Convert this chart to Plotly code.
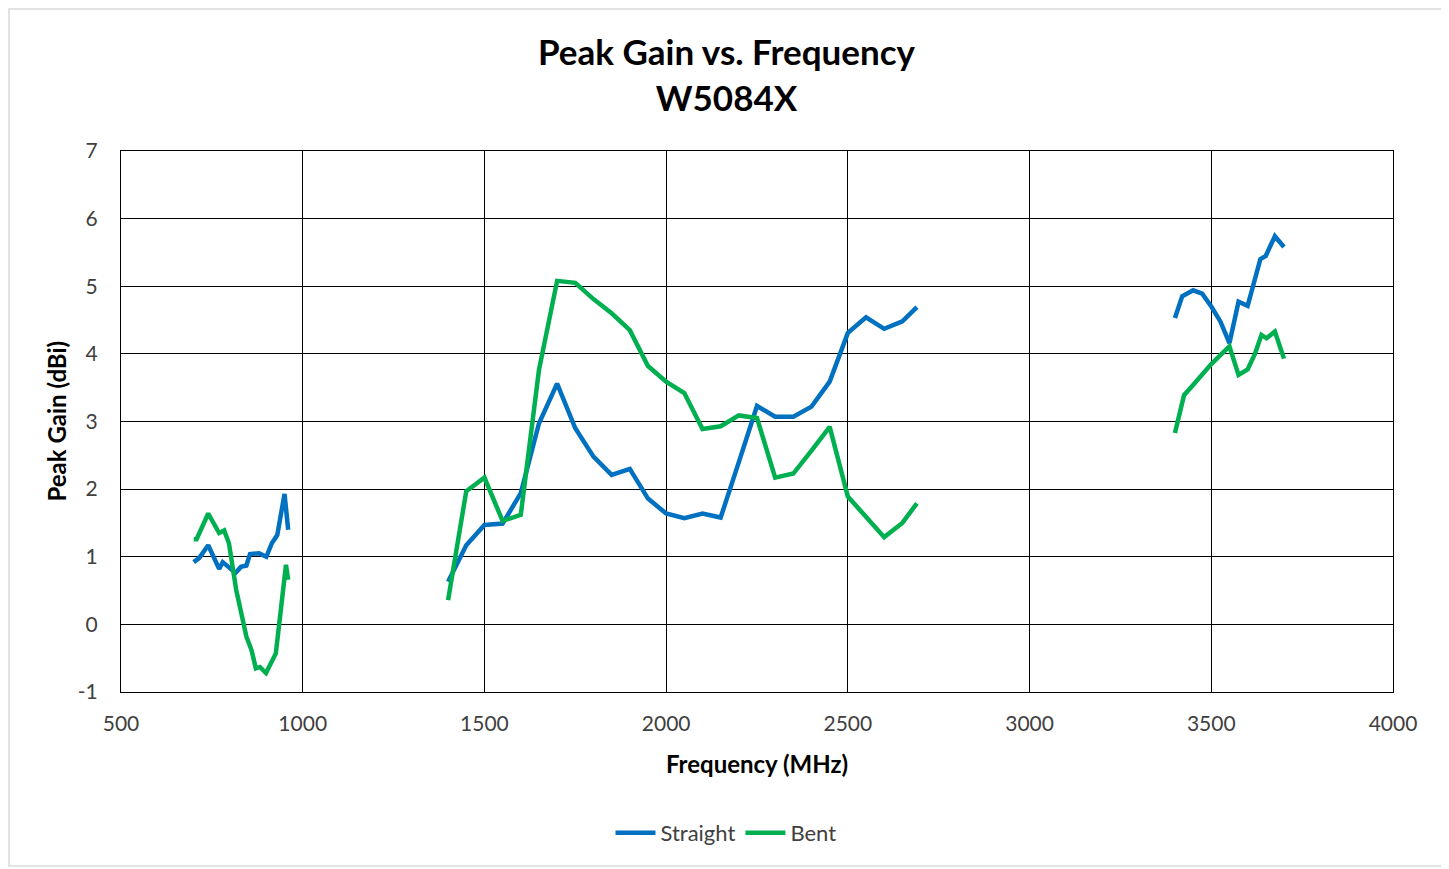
import plotly.graph_objects as go

# ---- data ----
straight_low_f = [700, 715, 740, 770, 780, 795, 815, 830, 845, 855, 880, 900, 915, 930, 950, 960]
straight_low_g = [0.92, 0.98, 1.17, 0.82, 0.92, 0.85, 0.76, 0.85, 0.87, 1.04, 1.05, 1.00, 1.20, 1.32, 1.93, 1.40]

bent_low_f = [700, 708, 740, 770, 784, 797, 817, 832, 845, 859, 871, 882, 899, 926, 937, 954, 960]
bent_low_g = [1.26, 1.26, 1.64, 1.35, 1.39, 1.20, 0.51, 0.11, -0.18, -0.38, -0.65, -0.63, -0.72, -0.43, 0.06, 0.88, 0.66]

mid_f = [1400, 1450, 1500, 1550, 1600, 1650, 1700, 1750, 1800, 1850, 1900, 1950, 2000,
         2050, 2100, 2150, 2200, 2250, 2300, 2350, 2400, 2450, 2500, 2550, 2600, 2650, 2690]
straight_mid_g = [0.63, 1.17, 1.47, 1.49, 1.94, 2.97, 3.56, 2.90, 2.48, 2.21, 2.30, 1.86, 1.64,
                  1.57, 1.64, 1.58, 2.40, 3.23, 3.07, 3.07, 3.22, 3.59, 4.31, 4.54, 4.37, 4.48, 4.69]
bent_mid_g = [0.36, 1.97, 2.17, 1.53, 1.62, 3.76, 5.08, 5.05, 4.81, 4.60, 4.35, 3.82, 3.59,
              3.42, 2.89, 2.93, 3.09, 3.05, 2.17, 2.23, 2.57, 2.92, 1.89, 1.60, 1.29, 1.50, 1.79]

straight_high_f = [3400, 3420, 3450, 3475, 3500, 3525, 3550, 3575, 3600, 3635, 3650, 3675, 3700]
straight_high_g = [4.53, 4.85, 4.94, 4.89, 4.70, 4.48, 4.16, 4.77, 4.71, 5.40, 5.45, 5.74, 5.58]

bent_high_f = [3400, 3425, 3450, 3475, 3500, 3525, 3550, 3575, 3600, 3620, 3638, 3652, 3675, 3700]
bent_high_g = [2.83, 3.39, 3.54, 3.70, 3.85, 3.98, 4.11, 3.69, 3.77, 4.00, 4.28, 4.23, 4.33, 3.93]

x_ticks = [500, 1000, 1500, 2000, 2500, 3000, 3500, 4000]
y_ticks = [-1, 0, 1, 2, 3, 4, 5, 6, 7]
y_tick_labels = ["-1", "0", "1", "2", "3", "4", "5", "6", "7"]

BLUE = "#0070C0"
GREEN = "#00B050"
FONT = "Lato, 'Open Sans', sans-serif"


def join(*segs):
    xs, ys = [], []
    for i, (fx, gy) in enumerate(segs):
        if i:
            xs.append(None)
            ys.append(None)
        xs += fx
        ys += gy
    return xs, ys


sx, sy = join((straight_low_f, straight_low_g), (mid_f, straight_mid_g), (straight_high_f, straight_high_g))
bx, by = join((bent_low_f, bent_low_g), (mid_f, bent_mid_g), (bent_high_f, bent_high_g))

fig = go.Figure()
fig.add_trace(go.Scatter(x=sx, y=sy, mode="lines", name="Straight",
                         line=dict(color=BLUE, width=4.5), connectgaps=False))
fig.add_trace(go.Scatter(x=bx, y=by, mode="lines", name="Bent",
                         line=dict(color=GREEN, width=4.5), connectgaps=False))

OFF = 8  # page body margin
W, H = 1449 - OFF, 869 - OFF
L, R, T, B = 121 - OFF, 1393 - OFF, 151 - OFF, 692 - OFF


def px(xr):
    return (xr - OFF - L) / (R - L)


def py(yr):
    return (B - (yr - OFF)) / (B - T)


fig.update_layout(
    width=W, height=H,
    margin=dict(l=L, r=W - R, t=T, b=H - B, autoexpand=False),
    paper_bgcolor="white", plot_bgcolor="white",
    font=dict(family=FONT, color="#595959", size=18),
    title=dict(text="<b>Peak Gain vs. Frequency<br>W5084X</b>", x=(726.5 - OFF) / W, xanchor="center",
               y=1 - (65 - OFF) / H, yanchor="middle", xref="container", yref="container",
               font=dict(family=FONT, size=35, color="black")),
    showlegend=True,
    legend=dict(orientation="h", x=px(726), xanchor="center",
                y=py(833), yanchor="middle",
                font=dict(family=FONT, size=22, color="#404040"),
                itemwidth=40, bgcolor="rgba(0,0,0,0)"),
    xaxis=dict(range=[500, 4000], tickvals=x_ticks, showgrid=True, gridcolor="black", gridwidth=1,
               showline=True, linecolor="black", linewidth=1, mirror=True, zeroline=False,
               ticks="", ticklabelstandoff=13, tickfont=dict(size=21, color="#404040")),
    yaxis=dict(range=[-1, 7], tickvals=y_ticks, ticktext=y_tick_labels, showgrid=True,
               gridcolor="black", gridwidth=1,
               showline=True, linecolor="black", linewidth=1, mirror=True, zeroline=False,
               ticks="", ticklabelstandoff=18, tickfont=dict(size=21, color="#404040")),
    shapes=[dict(type="rect", xref="paper", yref="paper",
                 x0=px(OFF + 1), x1=px(1445), y0=py(866), y1=py(OFF + 1),
                 line=dict(color="#D9D9D9", width=1.5), fillcolor="rgba(0,0,0,0)", layer="above")],
    annotations=[
        dict(text="<b>Frequency (MHz)</b>", xref="paper", yref="paper",
             x=px(757), y=py(763), xanchor="center", yanchor="middle",
             showarrow=False, font=dict(family=FONT, size=24, color="black")),
        dict(text="<b>Peak Gain (dBi)</b>", xref="paper", yref="paper", textangle=-90,
             x=px(56), y=0.5, xanchor="center", yanchor="middle",
             showarrow=False, font=dict(family=FONT, size=24, color="black")),
    ],
)

fig.write_html("out.html")
